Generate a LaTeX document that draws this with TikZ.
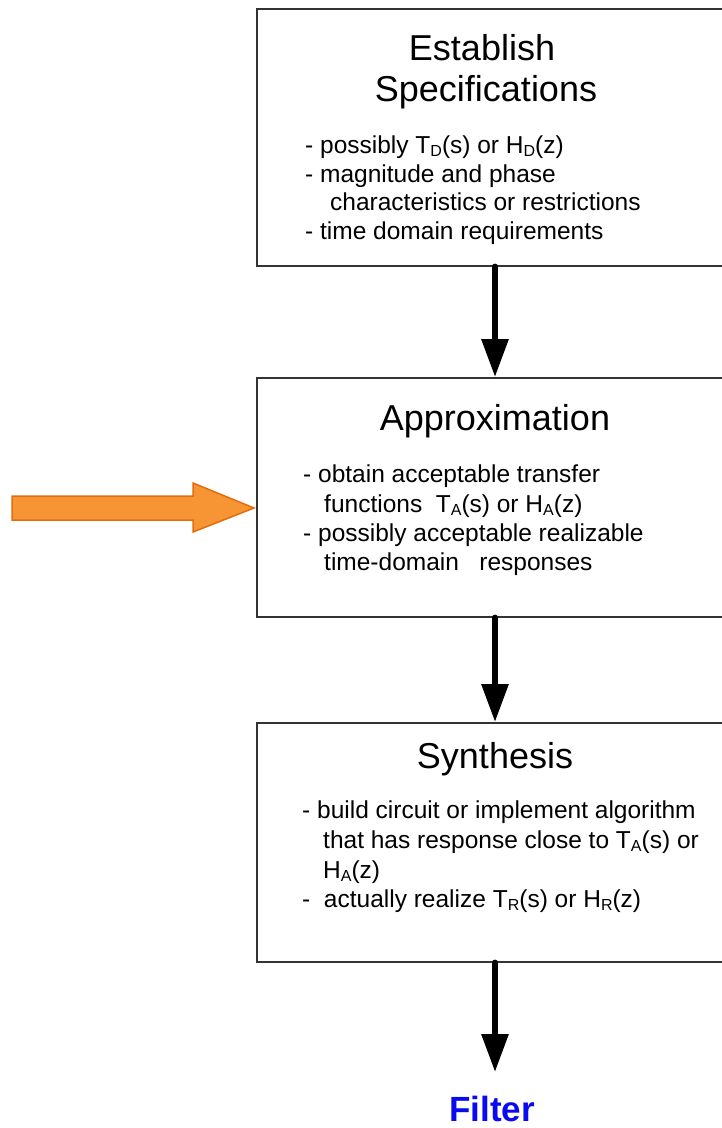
\documentclass[tikz,border=0pt]{standalone}
\usepackage{fontspec}
\setmainfont{Liberation Sans}
\usetikzlibrary{arrows.meta}
\definecolor{orangefill}{HTML}{F79433}
\definecolor{orangeline}{HTML}{E46C0A}
\definecolor{filterblue}{HTML}{0A0AF0}
\newcommand{\lowsub}[1]{\raisebox{-0.25ex}{\fontsize{16}{16}\selectfont #1}}
\tikzset{
  stagebox/.style={draw=black!80, line width=1.6pt, fill=none, minimum width=478pt, inner sep=0pt},
  titletext/.style={anchor=base, inner sep=0pt, font=\fontsize{36}{40}\selectfont},
  bodytext/.style={anchor=base west, inner sep=0pt, font=\fontsize{24.5}{29}\selectfont},
  flowarrow/.style={line width=6pt, line cap=round, -{Triangle[width=26pt,length=38pt]}},
}
\begin{document}
\begin{tikzpicture}[x=1pt,y=-1pt]
\useasboundingbox (0,0) rectangle (722,1128);
\clip (0,0) rectangle (722,1128);
% boxes
\node[stagebox, minimum height=257pt, anchor=north west] (spec) at (256,8) {};
\node[stagebox, minimum height=239pt, anchor=north west] (approx) at (256,377) {};
\node[stagebox, minimum height=239pt, anchor=north west] (synth) at (256,722) {};
% box 1 text
\node[titletext] (t1a) at (482,60) {Establish};
\node[titletext] (t1b) at (486,101) {Specifications};
\node[bodytext] (s1) at (305,153) {- possibly T\lowsub{D}(s) or H\lowsub{D}(z)};
\node[bodytext] (s2) at (305,182) {- magnitude and phase};
\node[bodytext] (s3) at (330,210) {characteristics or restrictions};
\node[bodytext] (s4) at (305,239) {- time domain requirements};
% box 2 text
\node[titletext] (t2) at (495,430) {Approximation};
\node[bodytext] (a1) at (303,482) {- obtain acceptable transfer};
\node[bodytext] (a2) at (324,512) {functions\ \ T\lowsub{A}(s) or H\lowsub{A}(z)};
\node[bodytext] (a3) at (303,541) {- possibly acceptable realizable};
\node[bodytext] (a4) at (324,570) {time-domain\ \ \ responses};
% box 3 text
\node[titletext] (t3) at (495,768) {Synthesis};
\node[bodytext] (y1) at (302,818) {- build circuit or implement algorithm};
\node[bodytext] (y2) at (323,848) {that has response close to T\lowsub{A}(s) or};
\node[bodytext] (y3) at (323,878) {H\lowsub{A}(z)};
\node[bodytext] (y4) at (302,907) {-\ \ actually realize T\lowsub{R}(s) or H\lowsub{R}(z)};
% output
\node[anchor=base, inner sep=0pt, font=\fontsize{35}{40}\selectfont\bfseries, text=filterblue] (filter) at (492,1121) {Filter};
\coordinate (out) at (495,1072);
% arrows
\draw[flowarrow] (spec.south -| 495,0) -- (approx.north -| 495,0);
\draw[flowarrow] (approx.south -| 495,0) -- (synth.north -| 495,0);
\draw[flowarrow] (synth.south -| 495,0) -- (out);
% orange input arrow
\draw[fill=orangefill, draw=orangeline, line width=1.5pt, line join=miter]
  (12,496) -- (193,496) -- (193,483) -- (254,508) -- (193,532) -- (193,520) -- (12,520) -- cycle;
\end{tikzpicture}
\end{document}
